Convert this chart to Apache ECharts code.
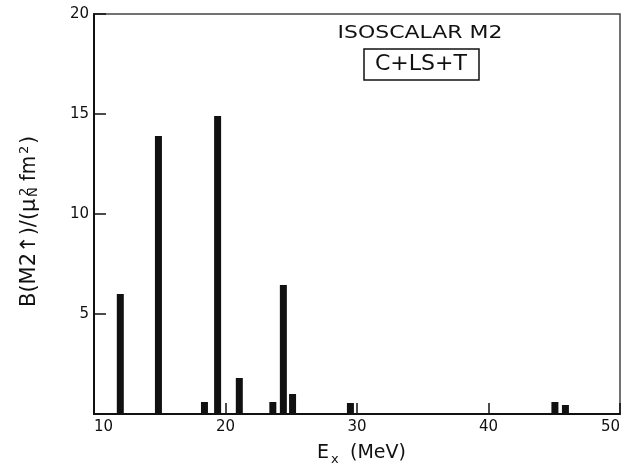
<!DOCTYPE html>
<html><head><meta charset="utf-8">
<script src="https://cdn.jsdelivr.net/npm/echarts@6/dist/echarts.min.js"></script>
<style>html,body{margin:0;padding:0;background:#fff}#c{width:623px;height:466px}</style>
</head><body><div id="c"></div>
<script>
// Excitation energies (MeV) and isoscalar M2 strengths B(M2↑) (μN² fm²)
const energies = [12.0, 14.9, 18.4, 19.4, 21.05, 23.6, 24.4, 25.1, 29.5, 45.05, 45.85];
const strengths = [6.0, 13.9, 0.6, 14.9, 1.8, 0.6, 6.45, 1.0, 0.55, 0.6, 0.45];
const xTickLabels = ['10', '20', '30', '40', '50'];
const yTickLabels = ['', '5', '10', '15', '20'];

const FONT = 'DejaVu Sans';
const INK = '#111';
const chart = echarts.init(document.getElementById('c'), null, {renderer: 'canvas'});

const seriesData = energies.map((e, i) => [e, strengths[i]]);

function txt(text, x, y, size, opts) {
  opts = opts || {};
  return {
    type: 'text', x: x, y: y, rotation: opts.rot || 0,
    scaleX: opts.sx || 1,
    style: {
      text: text, fill: INK, fontFamily: FONT, fontSize: size,
      align: opts.align || 'left', verticalAlign: 'middle'
    },
    z: 100
  };
}
const R = Math.PI / 2;

chart.setOption({
  animation: false,
  backgroundColor: '#fff',
  grid: {left: 94, right: 1, top: 14, bottom: 52, show: true, borderColor: '#444', borderWidth: 1.5, backgroundColor: 'transparent'},
  xAxis: {
    type: 'value', min: 10, max: 50, interval: 10,
    axisLine: {show: true, onZero: false, lineStyle: {color: INK, width: 2}},
    axisTick: {show: true, inside: true, length: 11, lineStyle: {color: INK, width: 1.5}},
    axisLabel: {
      color: INK, fontFamily: FONT, fontSize: 15, margin: 6,
      alignMinLabel: 'left', alignMaxLabel: 'right',
      formatter: v => xTickLabels[Math.round((v - 10) / 10)] || ''
    },
    splitLine: {show: false}
  },
  yAxis: {
    type: 'value', min: 0, max: 20, interval: 5,
    axisLine: {show: true, lineStyle: {color: INK, width: 2}},
    axisTick: {show: true, inside: true, length: 12, lineStyle: {color: INK, width: 1.5}},
    axisLabel: {
      color: INK, fontFamily: FONT, fontSize: 15, margin: 5, padding: [6, 0, 0, 0],
      formatter: v => yTickLabels[Math.round(v / 5)] || ''
    },
    splitLine: {show: false}
  },
  series: [{
    type: 'bar', data: seriesData, barWidth: 7,
    itemStyle: {color: INK}, z: 3
  }],
  graphic: [
    // y-axis title, rotated, built from pieces for sub/superscripts
    txt('B(M2\u2191)/(', 29.5, 307, 21, {rot: R}),
    txt('\u03bc', 29.5, 212, 21, {rot: R}),
    txt('N', 34, 197, 13, {rot: R}),
    txt('2', 25, 196, 13, {rot: R}),
    txt('fm', 29.5, 181, 21, {rot: R, sx: 0.9}),
    txt('2', 25, 154, 13, {rot: R}),
    txt(')', 29.5, 144, 21, {rot: R}),
    // x-axis title
    txt('E', 317, 453, 19),
    txt('x', 331, 460, 13),
    txt('(MeV)', 350, 453, 19),
    // annotation
    txt('ISOSCALAR M2', 420, 33, 18, {align: 'center', sx: 1.22}),
    {type: 'rect', shape: {x: 364, y: 49, width: 115, height: 31}, style: {fill: 'none', stroke: INK, lineWidth: 1.5}, z: 100},
    txt('C+LS+T', 421, 65, 21, {align: 'center', sx: 1.05})
  ]
});
</script></body></html>
